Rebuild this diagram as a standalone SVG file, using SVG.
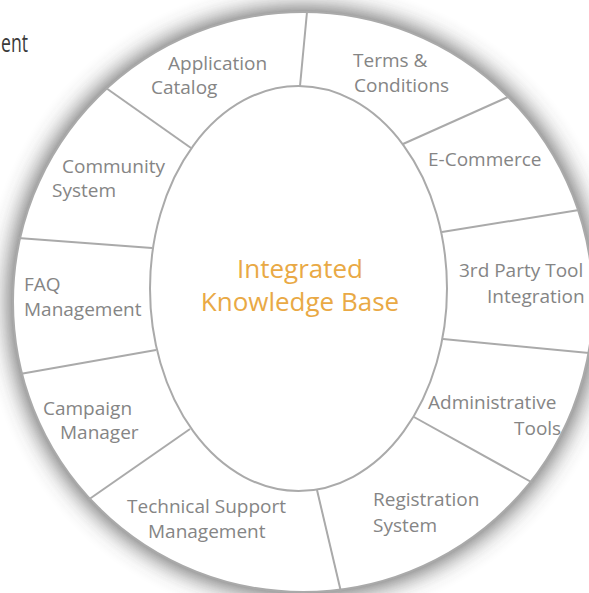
<svg xmlns="http://www.w3.org/2000/svg" width="589" height="593" viewBox="0 0 589 593">
  <defs>
    <filter id="shadow" x="-20%" y="-20%" width="140%" height="140%">
      <feGaussianBlur stdDeviation="12"/>
    </filter>
    <style>
      .lbl { font-family: "Open Sans", "Liberation Sans", sans-serif; font-size: 19px; fill: #858585; }
      .center { font-family: "Open Sans", "Liberation Sans", sans-serif; font-size: 26px; fill: #e9a945; text-anchor: middle; }
      .div { stroke: #aaaaaa; stroke-width: 2; fill: none; }
    </style>
  </defs>
  <rect width="589" height="593" fill="#ffffff"/>
  <text x="1" y="52" font-family="'Open Sans', 'Liberation Sans', sans-serif" font-size="25" fill="#3a3a3a" textLength="27" lengthAdjust="spacingAndGlyphs">ent</text>

  <g id="ring">
    <circle cx="303" cy="302" r="293" fill="#4a4a4a" opacity="0.9" filter="url(#shadow)"/>
    <circle cx="303" cy="302" r="290" fill="#ffffff" stroke="#aaaaaa" stroke-width="2"/>
  </g>

  <g id="connectors">
    <line class="div" x1="300" y1="86" x2="307" y2="12"/>
    <line class="div" x1="403" y1="144" x2="508" y2="97"/>
    <line class="div" x1="442" y1="232" x2="579" y2="210"/>
    <line class="div" x1="443" y1="339" x2="590" y2="353"/>
    <line class="div" x1="414" y1="417" x2="533" y2="483"/>
    <line class="div" x1="317" y1="490" x2="341" y2="592"/>
    <line class="div" x1="190" y1="429" x2="88" y2="500"/>
    <line class="div" x1="156" y1="350" x2="20" y2="374"/>
    <line class="div" x1="152" y1="248" x2="18" y2="238"/>
    <line class="div" x1="191" y1="148" x2="106" y2="88"/>
  </g>

  <g id="core">
    <ellipse class="div" cx="298.5" cy="288.5" rx="148.5" ry="202.5" fill="#ffffff"/>
    <text class="center" x="300" y="278">Integrated</text>
    <text class="center" x="300" y="311">Knowledge Base</text>
  </g>

  <g id="application-catalog">
    <text class="lbl" x="168" y="70">Application</text>
    <text class="lbl" x="151" y="94">Catalog</text>
  </g>
  <g id="terms-conditions">
    <text class="lbl" x="353" y="67">Terms &amp;</text>
    <text class="lbl" x="354" y="92">Conditions</text>
  </g>
  <g id="e-commerce">
    <text class="lbl" x="428" y="166">E-Commerce</text>
  </g>
  <g id="third-party">
    <text class="lbl" x="459" y="277">3rd Party Tool</text>
    <text class="lbl" x="487" y="303">Integration</text>
  </g>
  <g id="administrative-tools">
    <text class="lbl" x="428" y="409">Administrative</text>
    <text class="lbl" x="514" y="435">Tools</text>
  </g>
  <g id="registration-system">
    <text class="lbl" x="373" y="506">Registration</text>
    <text class="lbl" x="373" y="532">System</text>
  </g>
  <g id="technical-support">
    <text class="lbl" x="127" y="513">Technical Support</text>
    <text class="lbl" x="148" y="538">Management</text>
  </g>
  <g id="campaign-manager">
    <text class="lbl" x="43" y="415">Campaign</text>
    <text class="lbl" x="60" y="439">Manager</text>
  </g>
  <g id="faq-management">
    <text class="lbl" x="24" y="291">FAQ</text>
    <text class="lbl" x="24" y="316">Management</text>
  </g>
  <g id="community-system">
    <text class="lbl" x="62" y="173">Community</text>
    <text class="lbl" x="52" y="197">System</text>
  </g>
</svg>
